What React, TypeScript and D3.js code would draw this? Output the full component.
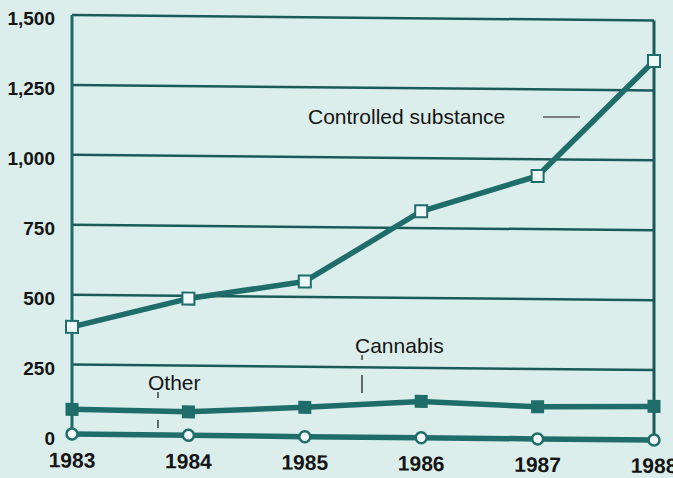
import React from "react";
import * as d3 from "d3";

const years = [1983, 1984, 1985, 1986, 1987, 1988];
const controlled = [385, 490, 555, 810, 940, 1355];
const cannabis = [90, 85, 105, 130, 115, 120];
const other = [2, 1, 0, 0, 0, 0];
const yTicks = [0, 250, 500, 750, 1000, 1250, 1500];
const seriesLabels = ["Controlled substance", "Cannabis", "Other"];

const W = 673;
const H = 478;
const BG = "#dbeeeb";
const TEAL = "#1f6d6a";
const GRID = "#1a5b59";
const TEXT = "#141414";
const LEFT = 72;
const RIGHT = 654;
const SKEW = 0.54;

export default function App() {
  const x = d3.scaleLinear().domain([1983, 1988]).range([LEFT, RIGHT]);
  const y = d3.scaleLinear().domain([0, 1500]).range([434.5, 15]);
  const line = d3
    .line<number>()
    .x((_, i) => x(years[i]))
    .y((d) => y(d));
  const fmt = d3.format(",");
  const skew = `translate(${LEFT},0) skewY(${SKEW}) translate(${-LEFT},0)`;

  return (
    <div style={{ position: "absolute", left: 0, top: 0 }}>
      <svg width={W} height={H} style={{ display: "block" }}>
        <rect x={0} y={0} width={W} height={H} fill={BG} />
        <g transform={skew}>
          {yTicks
            .filter((t) => t > 0)
            .map((t) => (
              <line
                key={"g" + t}
                x1={LEFT}
                x2={RIGHT}
                y1={y(t)}
                y2={y(t)}
                stroke={GRID}
                strokeWidth={2.5}
              />
            ))}
          <line x1={LEFT} x2={LEFT} y1={y(1500)} y2={y(0)} stroke={TEAL} strokeWidth={3} />
          <line x1={RIGHT} x2={RIGHT} y1={y(1500)} y2={y(0)} stroke={GRID} strokeWidth={3} />

          <path d={line(other) || ""} fill="none" stroke={TEAL} strokeWidth={5.5} strokeLinejoin="round" />
          <path d={line(cannabis) || ""} fill="none" stroke={TEAL} strokeWidth={5.5} strokeLinejoin="round" />
          <path d={line(controlled) || ""} fill="none" stroke={TEAL} strokeWidth={5.5} strokeLinejoin="round" />

          {controlled.map((v, i) => (
            <rect
              key={"c" + i}
              x={x(years[i]) - 6}
              y={y(v) - 6}
              width={12}
              height={12}
              fill="#eef8f6"
              stroke={TEAL}
              strokeWidth={2}
            />
          ))}
          {cannabis.map((v, i) => (
            <rect
              key={"k" + i}
              x={x(years[i]) - 6.5}
              y={y(v) - 6.5}
              width={13}
              height={13}
              fill={TEAL}
            />
          ))}
          {other.map((v, i) => (
            <circle
              key={"o" + i}
              cx={x(years[i])}
              cy={y(v)}
              r={5.5}
              fill="#f4fbfa"
              stroke={TEAL}
              strokeWidth={2.5}
            />
          ))}

          {years.map((yr) => (
            <text
              key={"x" + yr}
              x={x(yr)}
              y={467.5}
              textAnchor="middle"
              fontFamily="'Liberation Sans', Arial, sans-serif"
              fontWeight="bold"
              fontSize={21}
              fill={TEXT}
            >
              {yr}
            </text>
          ))}
        </g>

        {yTicks.map((t) => (
          <text
            key={"y" + t}
            x={55}
            y={y(t) + 10}
            textAnchor="end"
            fontFamily="'Liberation Sans', Arial, sans-serif"
            fontWeight="bold"
            fontSize={19}
            fill={TEXT}
          >
            {fmt(t)}
          </text>
        ))}

        <g fontFamily="'Liberation Sans', Arial, sans-serif" fontSize={21} fill={TEXT}>
          <text x={308} y={124}>{seriesLabels[0]}</text>
          <line x1={543} x2={580} y1={117} y2={117} stroke={TEXT} strokeWidth={1} />
          <text x={355} y={352.5}>{seriesLabels[1]}</text>
          <line x1={362} x2={362} y1={355} y2={360} stroke={TEXT} strokeWidth={1.2} />
          <line x1={362} x2={362} y1={375} y2={393} stroke={TEXT} strokeWidth={1.2} />
          <text x={148} y={389.5}>{seriesLabels[2]}</text>
          <line x1={158} x2={158} y1={392} y2={398} stroke={TEXT} strokeWidth={1.2} />
          <line x1={158} x2={158} y1={420} y2={428} stroke={TEXT} strokeWidth={1.2} />
        </g>
      </svg>
    </div>
  );
}
